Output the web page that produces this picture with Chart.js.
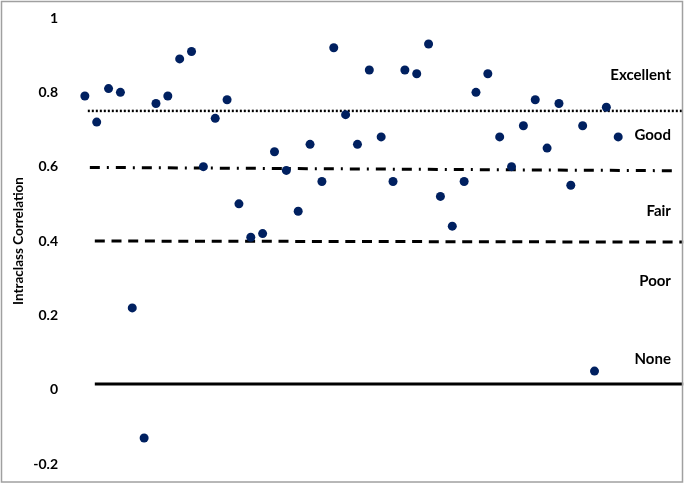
<!DOCTYPE html>
<html>
<head>
<meta charset="utf-8">
<title>Intraclass Correlation</title>
<script src="https://cdn.jsdelivr.net/npm/chart.js@4.4.1/dist/chart.umd.min.js"></script>
<style>
    body { margin: 0; background: #fff; }
    #wrap { position: relative; width: 685px; height: 484px; }
</style>
</head>
<body>
<div id="wrap"><canvas id="iccChart"></canvas></div>
<script>
    // item number along x
    const items = [1, 2, 3, 4, 5, 6, 7, 8, 9, 10, 11, 12, 13, 14, 15, 16, 17, 18, 19, 20, 21, 22, 23,
        24, 25, 26, 27, 28, 29, 30, 31, 32, 33, 34, 35, 36, 37, 38, 39, 40, 41, 42, 43, 44, 45, 46];

    // intraclass correlation for each item
    const iccValues = [0.79, 0.72, 0.81, 0.80, 0.22, -0.13, 0.77, 0.79, 0.89, 0.91, 0.60, 0.73, 0.78,
        0.50, 0.41, 0.42, 0.64, 0.59, 0.48, 0.66, 0.56, 0.92, 0.74, 0.66, 0.86, 0.68, 0.56, 0.86,
        0.85, 0.93, 0.52, 0.44, 0.56, 0.80, 0.85, 0.68, 0.60, 0.71, 0.78, 0.65, 0.77, 0.55, 0.71,
        0.05, 0.76, 0.68];

    // y axis ticks
    const yTicks = [-0.2, 0, 0.2, 0.4, 0.6, 0.8, 1];
    const yTickLabels = ['-0.2', '0', '0.2', '0.4', '0.6', '0.8', '1'];

    // cut off lines (start / end)
    const excellentX = [1.25, 51.5];
    const excellentY = [0.75, 0.75];
    const goodX = [1.42, 50.96];
    const goodY = [0.598, 0.589];
    const fairX = [1.84, 51.5];
    const fairY = [0.400, 0.397];
    const noneX = [1.84, 51.5];
    const noneY = [0.015, 0.015];

    // zone names on the right
    const zoneNames = ['Excellent', 'Good', 'Fair', 'Poor', 'None'];
    const zoneLabelY = [0.845, 0.686, 0.481, 0.291, 0.083];
    const zoneLabelX = 50.45;

    function toPoints(xs, ys) {
        return xs.map(function (x, i) { return { x: x, y: ys[i] }; });
    }

    function cutLine(xs, ys, dash, width) {
        return {
            type: 'line',
            data: toPoints(xs, ys),
            borderColor: '#000000',
            borderWidth: width,
            borderDash: dash,
            borderCapStyle: 'butt',
            pointRadius: 0,
            showLine: true,
            order: 2
        };
    }

    //draws the zone names
    const zoneLabelPlugin = {
        id: 'zoneLabels',
        afterDatasetsDraw: function (chart) {
            const ctx = chart.ctx;
            const xs = chart.scales.x;
            const ys = chart.scales.y;
            ctx.save();
            ctx.font = 'bold 15px Lato';
            ctx.fillStyle = '#000000';
            ctx.textAlign = 'right';
            ctx.textBaseline = 'middle';
            zoneNames.forEach(function (name, i) {
                ctx.fillText(name, xs.getPixelForValue(zoneLabelX), ys.getPixelForValue(zoneLabelY[i]));
            });
            ctx.restore();
        }
    };

    //grey frame round the chart
    const framePlugin = {
        id: 'frame',
        afterDraw: function (chart) {
            const ctx = chart.ctx;
            ctx.save();
            ctx.strokeStyle = '#a0a0a0';
            ctx.lineWidth = 1.5;
            ctx.strokeRect(1.5, 1.5, 681, 480.5);
            ctx.restore();
        }
    };

    const ctx = document.getElementById('iccChart').getContext('2d');
    const iccChart = new Chart(ctx, {
        type: 'scatter',
        data: {
            datasets: [
                {
                    label: 'ICC',
                    data: toPoints(items, iccValues),
                    backgroundColor: '#002060',
                    borderWidth: 0,
                    pointRadius: 4.5,
                    order: 1
                },
                cutLine(excellentX, excellentY, [2, 2], 2.5),
                cutLine(goodX, goodY, [10, 7, 2, 7], 3),
                cutLine(fairX, fairY, [10, 6.7], 3),
                cutLine(noneX, noneY, [], 3)
            ]
        },
        options: {
            responsive: true,
            maintainAspectRatio: false,
            animation: false,
            layout: { autoPadding: false, padding: { top: 18, bottom: 20, left: 0, right: 1.6 } },
            plugins: {
                legend: { display: false },
                tooltip: { enabled: false }
            },
            scales: {
                x: {
                    type: 'linear',
                    min: 0,
                    max: 51.5,
                    display: false
                },
                y: {
                    min: -0.2,
                    max: 1,
                    afterFit: function (scale) {
                        scale.width = 73;
                        // keep the tick padding from pushing the plot inwards
                        scale.paddingTop = 8;
                        scale.paddingBottom = 8;
                    },
                    afterBuildTicks: function (scale) {
                        scale.ticks = yTicks.map(function (v) { return { value: v }; });
                    },
                    grid: { display: false, drawTicks: false },
                    border: { display: false },
                    ticks: {
                        padding: 15,
                        color: '#000000',
                        font: { family: 'Lato', weight: 'bold', size: 14 },
                        callback: function (value, index) { return yTickLabels[index]; }
                    },
                    title: {
                        display: true,
                        text: 'Intraclass Correlation',
                        color: '#000000',
                        font: { family: 'Lato', weight: 'bold', size: 13.5 },
                        padding: { top: 11, bottom: 0 }
                    }
                }
            }
        },
        plugins: [zoneLabelPlugin, framePlugin]
    });
</script>
</body>
</html>
